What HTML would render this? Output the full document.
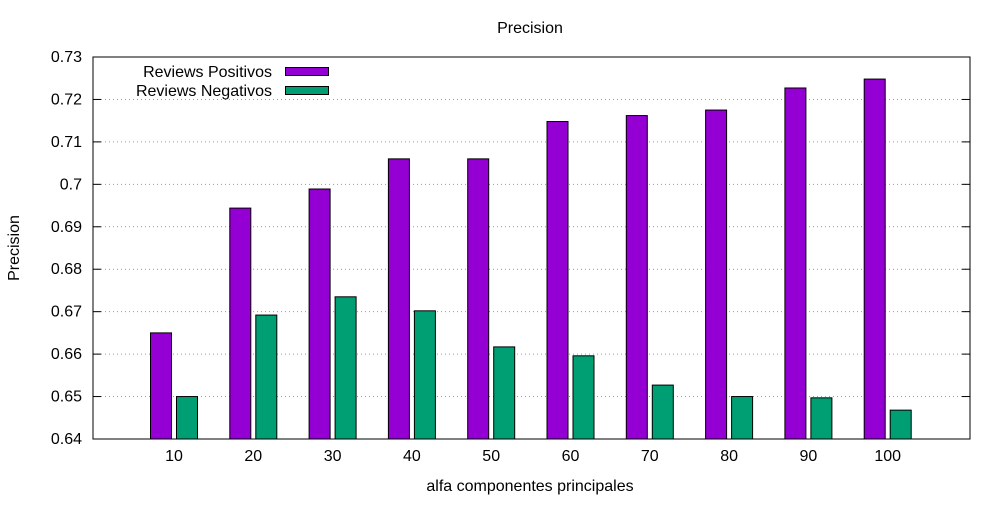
<!DOCTYPE html>
<html><head><meta charset="utf-8"><style>
body{margin:0;background:#fff}
text{font-family:"Liberation Sans",sans-serif;font-size:16px;fill:#000}
</style></head><body>
<svg id="c" width="1000" height="500"></svg>
<script>
const categories=["10","20","30","40","50","60","70","80","90","100"];
const positivos=[0.665,0.6944,0.6989,0.706,0.706,0.7148,0.7162,0.7175,0.7227,0.7248];
const negativos=[0.650,0.6692,0.6735,0.6702,0.6617,0.6596,0.6527,0.650,0.6497,0.6468];
const yTicks=[0.64,0.65,0.66,0.67,0.68,0.69,0.7,0.71,0.72,0.73];
const yTickLabels=["0.64","0.65","0.66","0.67","0.68","0.69","0.7","0.71","0.72","0.73"];
const svg=document.getElementById('c');const NS='http://www.w3.org/2000/svg';
const L=93,R=970,T=57,B=439,ymin=0.64,ymax=0.73;
const y=v=>B-(v-ymin)/(ymax-ymin)*(B-T);
const x=i=>L+81+i*79.3;
function mk(t,a,txt){const e=document.createElementNS(NS,t);for(const k in a)e.setAttribute(k,a[k]);if(txt!=null)e.textContent=txt;svg.appendChild(e);return e;}
yTicks.forEach((v,i)=>{
 if(i>0&&i<yTicks.length-1){const g=mk('line',{x1:L,x2:R,y1:y(v),y2:y(v),stroke:'#999','stroke-dasharray':'1,3','stroke-width':1});
 
 }
 const t=mk('line',{x1:L,x2:L+8,y1:y(v),y2:y(v),stroke:'#000'});
 
 
 const t2=mk('line',{x1:R-8,x2:R,y1:y(v),y2:y(v),stroke:'#000'});
 
 
 const l=mk('text',{x:82,y:y(v)+5,'text-anchor':'end'},yTickLabels[i]);
 
 
});
categories.forEach((c,i)=>{
 const cx=x(i);
 const lb=mk('text',{x:cx,y:B+22,'text-anchor':'middle'},c);
 
 
 const b1=mk('rect',{x:cx-23.5,y:y(positivos[i]),width:21,height:B-y(positivos[i]),fill:'#9400d3',stroke:'#000','stroke-width':1});
 
 
 const b2=mk('rect',{x:cx+2.5,y:y(negativos[i]),width:21,height:B-y(negativos[i]),fill:'#009e73',stroke:'#000','stroke-width':1});
 
 
});
const ax=mk('rect',{x:L,y:T,width:R-L,height:B-T,fill:'none',stroke:'#000'});


const ti=mk('text',{x:530,y:33,'text-anchor':'middle'},'Precision');


const xt=mk('text',{x:530,y:491,'text-anchor':'middle'},'alfa componentes principales');


const yt=mk('text',{x:19,y:248,'text-anchor':'middle',transform:'rotate(-90 19 248)'},'Precision');


const lt1=mk('text',{x:272,y:77,'text-anchor':'end'},'Reviews Positivos');


const ls1=mk('rect',{x:285.5,y:67.5,width:43,height:8,fill:'#9400d3',stroke:'#000'});


const lt2=mk('text',{x:272,y:96,'text-anchor':'end'},'Reviews Negativos');


const ls2=mk('rect',{x:285.5,y:86.5,width:43,height:8,fill:'#009e73',stroke:'#000'});


</script>
</body></html>
